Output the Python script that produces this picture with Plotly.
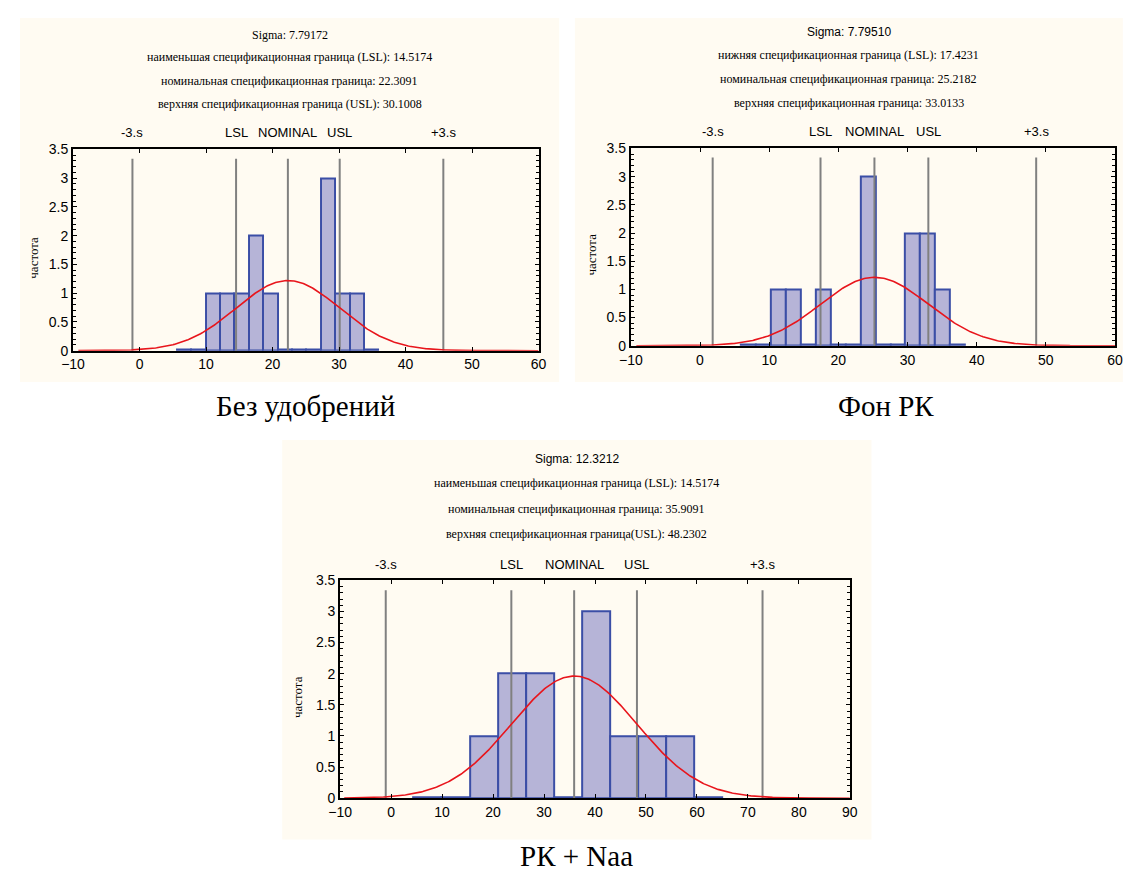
import numpy as np
import plotly.graph_objects as go

# ---------------- data ----------------
panel_names = ["Без удобрений", "Фон РК", "РК + Naa"]
sigmas = [7.79172, 7.79510, 12.3212]
nominals = [22.3091, 25.2182, 35.9091]
header_lines = [
    ["Sigma: 7.79172",
     "наименьшая спецификационная граница (LSL): 14.5174",
     "номинальная спецификационная граница: 22.3091",
     "верхняя спецификационная граница (USL): 30.1008"],
    ["Sigma: 7.79510",
     "нижняя спецификационная граница (LSL): 17.4231",
     "номинальная спецификационная граница: 25.2182",
     "верхняя спецификационная граница: 33.0133"],
    ["Sigma: 12.3212",
     "наименьшая спецификационная граница (LSL): 14.5174",
     "номинальная спецификационная граница: 35.9091",
     "верхняя спецификационная граница(USL): 48.2302"],
]
sigma_font_serif = [True, False, False]
bin_starts = [5.6, 5.95, 4.4]
bin_widths = [2.165, 2.157, 5.51]
counts_1 = [0, 0, 1, 1, 1, 2, 1, 0, 0, 0, 3, 1, 1, 0]
counts_2 = [0, 0, 1, 1, 0, 1, 0, 0, 3, 0, 0, 2, 2, 1, 0]
counts_3 = [0, 0, 1, 2, 2, 0, 3, 1, 1, 1, 0]
counts = [counts_1, counts_2, counts_3]
x_ranges = [[-10, 60], [-10, 60], [-10, 90]]
y_range = [0, 3.5]
line_labels = ["-3.s", "LSL", "NOMINAL", "USL", "+3.s"]
line_sigma_mult = [-3, -1, 0, 1, 3]
y_title = "частота"

# ---------------- layout geometry (window pixels) ----------------
OFF = 8  # default body margin of the page
W, H = 1131 - 2 * OFF, 879 - 2 * OFF
plot_px = [  # x0, x1, y_top(3.5), y_bottom(0)
    (62, 536, 144, 349),
    (630, 1123, 143, 344),
    (334, 853, 583, 805),
]
panel_px = [(8, 557, 10, 381), (573, 1131, 10, 381), (275, 875, 440, 847)]
header_y = [(27, 50, 74, 98), (24, 48, 72, 97), (459, 484, 510, 536)]
label_y = [127, 126, 567]
ytitle_x = [22, 590, 290]
caption_pos = [(299, 405), (890, 405), (575, 864)]


def fx(px):
    return (px - OFF) / W


def fy(py):
    return 1 - (py - OFF) / H


cream = "#FFFBF2"
bar_fill = "#B6B4D7"
bar_line = "#3B4EA6"
grey = "#808080"
red = "#E8151C"
sans = "Liberation Sans, Arial, sans-serif"
serif = "Liberation Serif, Times New Roman, serif"

fig = go.Figure()
shapes, annotations = [], []

for i in range(3):
    ax = "" if i == 0 else str(i + 1)
    xref, yref = "x" + ax, "y" + ax
    x0, x1, yt, yb = plot_px[i]
    # cream panel background
    px0, px1, py0, py1 = panel_px[i]
    shapes.append(dict(type="rect", xref="paper", yref="paper", layer="below",
                       x0=fx(px0), x1=fx(px1), y0=fy(py1), y1=fy(py0),
                       fillcolor=cream, line=dict(width=0)))
    # histogram bars
    c = np.array(counts[i], dtype=float)
    centers = bin_starts[i] + bin_widths[i] * (np.arange(len(c)) + 0.5)
    disp = np.where(c > 0, c, 0.02)
    fig.add_trace(go.Bar(x=centers, y=disp, width=bin_widths[i], xaxis=xref, yaxis=yref,
                         marker=dict(color=bar_fill, line=dict(color=bar_line, width=2)),
                         showlegend=False, hoverinfo="skip"))
    # vertical spec lines
    mu, sd = nominals[i], sigmas[i]
    for m, lab in zip(line_sigma_mult, line_labels):
        xv = mu + m * sd
        fig.add_trace(go.Scatter(x=[xv, xv], y=[0, 3.34], mode="lines", xaxis=xref, yaxis=yref,
                                 line=dict(color=grey, width=2), showlegend=False, hoverinfo="skip"))
        annotations.append(dict(x=xv, xref=xref, y=fy(label_y[i]), yref="paper",
                                text=lab, showarrow=False, xanchor="center", yanchor="middle",
                                font=dict(family=sans, size=13, color="black")))
    # normal curve
    xs = np.linspace(x_ranges[i][0] + 0.8, x_ranges[i][1], 400)
    n = c.sum()
    ys = n * bin_widths[i] / (sd * np.sqrt(2 * np.pi)) * np.exp(-0.5 * ((xs - mu) / sd) ** 2)
    fig.add_trace(go.Scatter(x=xs, y=ys, mode="lines", xaxis=xref, yaxis=yref,
                             line=dict(color=red, width=1.6), showlegend=False, hoverinfo="skip"))
    # axes
    axis_common = dict(showline=True, linecolor="black", linewidth=2, mirror="ticks",
                       ticks="inside", tickcolor="black", ticklen=4, tickwidth=1,
                       showgrid=False, zeroline=False,
                       tickfont=dict(family=sans, size=14, color="black"))
    fig.update_layout(**{
        "xaxis" + ax: dict(domain=[fx(x0), fx(x1)], range=x_ranges[i], dtick=10, tick0=0,
                           anchor=yref, **axis_common),
        "yaxis" + ax: dict(domain=[fy(yb), fy(yt)], range=y_range, dtick=0.5, tick0=0,
                           anchor=xref,
                           minor=dict(dtick=0.1, ticks="inside", ticklen=3, tickcolor="black"),
                           **axis_common),
    })
    # headers
    cx = fx((px0 + px1) / 2)
    for k, (txt, yy) in enumerate(zip(header_lines[i], header_y[i])):
        fam = serif if (k > 0 or sigma_font_serif[i]) else sans
        annotations.append(dict(x=cx, xref="paper", y=fy(yy), yref="paper", text=txt,
                                showarrow=False, xanchor="center", yanchor="middle",
                                font=dict(family=fam, size=12, color="black")))
    # y title
    annotations.append(dict(x=fx(ytitle_x[i]), xref="paper", y=fy((yt + yb) / 2 + 8), yref="paper",
                            text=y_title, textangle=-90, showarrow=False,
                            xanchor="center", yanchor="middle",
                            font=dict(family=serif, size=13, color="black")))
    # caption
    annotations.append(dict(x=fx(caption_pos[i][0]), xref="paper", y=fy(caption_pos[i][1]),
                            yref="paper", text=panel_names[i], showarrow=False,
                            xanchor="center", yanchor="middle",
                            font=dict(family=serif, size=29, color="black")))

fig.update_layout(width=W, height=H, margin=dict(l=0, r=0, t=0, b=0),
                  paper_bgcolor="white", plot_bgcolor="white", bargap=0,
                  shapes=shapes, annotations=annotations, barmode="overlay")
fig.write_html("out.html")
